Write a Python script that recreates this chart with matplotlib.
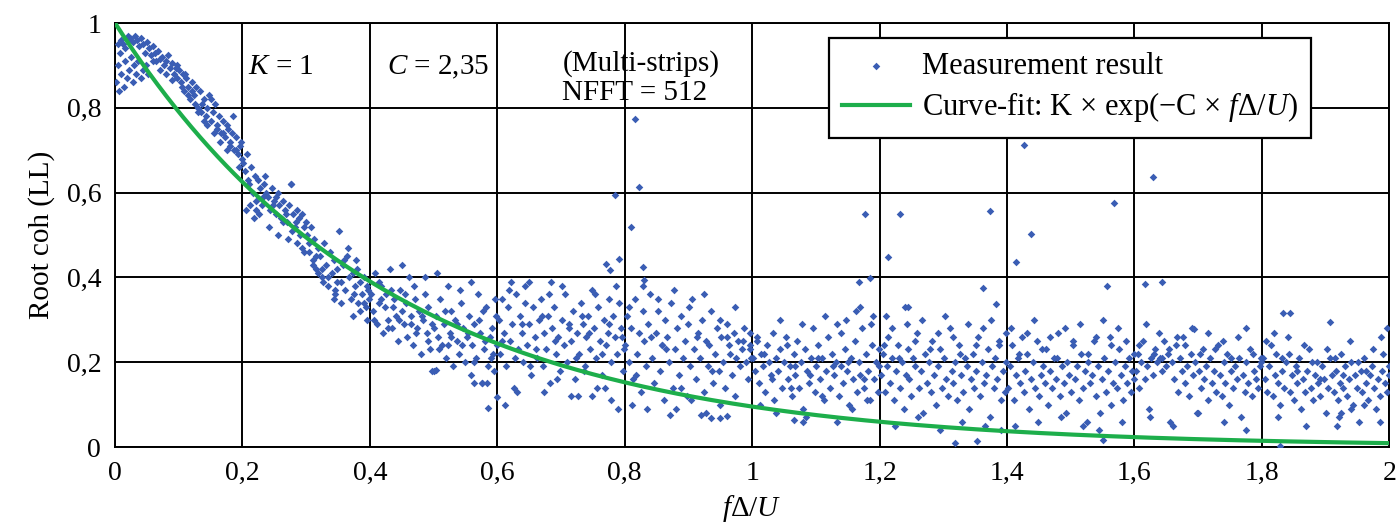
import matplotlib
matplotlib.use('Agg')
import matplotlib.pyplot as plt
import numpy as np

# ── fonts: Times-like serif ──
plt.rcParams['font.family'] = ['Liberation Serif', 'DejaVu Serif']
plt.rcParams['mathtext.fontset'] = 'custom'
plt.rcParams['mathtext.rm'] = 'Liberation Serif'
plt.rcParams['mathtext.it'] = 'Liberation Serif:italic'

BLUE = '#3A5DB4'
GREEN = '#1DAE4B'

# ── fit parameters ──
K_fit = 1.0
C_fit = 2.35

x_a = [0.002, 0.004, 0.006, 0.008, 0.010, 0.012, 0.014, 0.016, 0.018, 0.020, 0.022, 0.025, 0.028, 0.030, 0.033,
       0.036, 0.040, 0.044, 0.048, 0.052, 0.005, 0.010, 0.015, 0.020, 0.024, 0.028, 0.032, 0.035, 0.038, 0.041,
       0.044, 0.047, 0.050, 0.053, 0.056, 0.059, 0.062, 0.065, 0.068, 0.071, 0.074, 0.077, 0.080, 0.083, 0.086,
       0.089, 0.092, 0.095, 0.098, 0.060, 0.070, 0.080, 0.090, 0.097]
y_a = [0.86, 0.90, 0.84, 0.93, 0.88, 0.95, 0.85, 0.91, 0.87, 0.96, 0.89, 0.92, 0.86, 0.90, 0.88,
       0.91, 0.87, 0.89, 0.90, 0.88, 0.95, 0.96, 0.94, 0.97, 0.965, 0.955, 0.97, 0.96, 0.945, 0.965,
       0.95, 0.93, 0.955, 0.94, 0.925, 0.945, 0.93, 0.91, 0.935, 0.915, 0.92, 0.90, 0.91, 0.925, 0.895,
       0.905, 0.88, 0.895, 0.87, 0.91, 0.89, 0.88, 0.865, 0.90]

x_b = [0.100, 0.103, 0.106, 0.109, 0.112, 0.115, 0.118, 0.121, 0.124, 0.127, 0.130, 0.133, 0.136, 0.139, 0.142,
       0.145, 0.148, 0.151, 0.154, 0.157, 0.160, 0.163, 0.166, 0.169, 0.172, 0.175, 0.178, 0.181, 0.184, 0.187,
       0.190, 0.193, 0.196, 0.199, 0.105, 0.115, 0.125, 0.135, 0.145, 0.155, 0.165, 0.175, 0.185, 0.195,
       0.110, 0.130, 0.150, 0.170, 0.190, 0.120, 0.140, 0.160, 0.180, 0.198]
y_b = [0.89, 0.86, 0.88, 0.84, 0.87, 0.85, 0.82, 0.86, 0.83, 0.85, 0.80, 0.84, 0.81, 0.82, 0.78,
       0.80, 0.83, 0.77, 0.79, 0.81, 0.75, 0.78, 0.74, 0.77, 0.73, 0.76, 0.75, 0.72, 0.74, 0.70,
       0.73, 0.69, 0.71, 0.68, 0.85, 0.83, 0.81, 0.79, 0.76, 0.74, 0.72, 0.70, 0.78, 0.66,
       0.88, 0.79, 0.82, 0.74, 0.70, 0.84, 0.77, 0.76, 0.71, 0.72]

x_c = [0.201, 0.204, 0.207, 0.210, 0.213, 0.216, 0.219, 0.222, 0.225, 0.228, 0.231, 0.234, 0.237, 0.240, 0.243,
       0.246, 0.249, 0.252, 0.255, 0.258, 0.261, 0.264, 0.267, 0.270, 0.273, 0.276, 0.279, 0.282, 0.285, 0.288,
       0.291, 0.294, 0.297, 0.299, 0.205, 0.212, 0.218, 0.226, 0.233, 0.241, 0.248, 0.256, 0.263, 0.271,
       0.278, 0.286, 0.293, 0.209, 0.221, 0.236, 0.252, 0.268, 0.284, 0.297]
y_c = [0.67, 0.65, 0.69, 0.62, 0.66, 0.60, 0.64, 0.58, 0.63, 0.61, 0.57, 0.62, 0.60, 0.59, 0.56,
       0.61, 0.58, 0.55, 0.60, 0.57, 0.54, 0.58, 0.56, 0.53, 0.57, 0.62, 0.55, 0.52, 0.56, 0.54,
       0.50, 0.55, 0.52, 0.53, 0.56, 0.57, 0.54, 0.55, 0.59, 0.52, 0.57, 0.50, 0.53, 0.49,
       0.51, 0.48, 0.47, 0.63, 0.56, 0.64, 0.59, 0.55, 0.53, 0.46]

x_d = [0.301, 0.304, 0.307, 0.310, 0.313, 0.316, 0.319, 0.322, 0.325, 0.328, 0.331, 0.334, 0.337, 0.340, 0.343,
       0.346, 0.349, 0.352, 0.355, 0.358, 0.361, 0.364, 0.367, 0.370, 0.373, 0.376, 0.379, 0.382, 0.385, 0.388,
       0.391, 0.394, 0.397, 0.399, 0.305, 0.315, 0.325, 0.335, 0.345, 0.355, 0.365, 0.375, 0.385, 0.395,
       0.311, 0.327, 0.343, 0.359, 0.374, 0.390, 0.318, 0.348, 0.378, 0.396]
y_d = [0.50, 0.46, 0.52, 0.44, 0.49, 0.42, 0.47, 0.45, 0.40, 0.48, 0.43, 0.38, 0.46, 0.41, 0.44,
       0.36, 0.42, 0.51, 0.39, 0.43, 0.37, 0.45, 0.40, 0.35, 0.41, 0.38, 0.42, 0.34, 0.39, 0.36,
       0.40, 0.33, 0.37, 0.35, 0.48, 0.45, 0.42, 0.40, 0.37, 0.34, 0.47, 0.36, 0.32, 0.38,
       0.43, 0.39, 0.35, 0.44, 0.31, 0.34, 0.41, 0.39, 0.44, 0.30]

x_e = [0.402, 0.405, 0.408, 0.411, 0.414, 0.417, 0.420, 0.423, 0.426, 0.429, 0.432, 0.435, 0.438, 0.441, 0.444,
       0.447, 0.450, 0.453, 0.456, 0.459, 0.462, 0.465, 0.468, 0.471, 0.474, 0.477, 0.480, 0.483, 0.486, 0.489,
       0.492, 0.495, 0.498, 0.501, 0.504, 0.507, 0.510, 0.513, 0.516, 0.519, 0.522, 0.525, 0.528, 0.531, 0.534,
       0.537, 0.540, 0.543, 0.546, 0.549, 0.552, 0.555, 0.558, 0.561, 0.564, 0.567, 0.570, 0.573, 0.576, 0.579,
       0.582, 0.585, 0.588, 0.591, 0.594, 0.597, 0.599,
       0.407, 0.418, 0.428, 0.437, 0.446, 0.455, 0.464, 0.473, 0.482, 0.491, 0.500, 0.509, 0.518, 0.527, 0.536,
       0.545, 0.554, 0.563, 0.572, 0.581, 0.590, 0.598, 0.415, 0.433, 0.451, 0.469, 0.487, 0.505, 0.523, 0.541,
       0.559, 0.577, 0.595, 0.586, 0.600, 0.498, 0.504, 0.564, 0.576, 0.584]
y_e = [0.36, 0.32, 0.41, 0.29, 0.34, 0.38, 0.27, 0.33, 0.36, 0.30, 0.42, 0.28, 0.35, 0.31, 0.25,
       0.37, 0.32, 0.29, 0.34, 0.26, 0.40, 0.31, 0.24, 0.35, 0.28, 0.32, 0.22, 0.30, 0.36, 0.27,
       0.33, 0.23, 0.29, 0.18, 0.31, 0.26, 0.35, 0.24, 0.29, 0.21, 0.38, 0.27, 0.32, 0.19, 0.30,
       0.25, 0.22, 0.34, 0.28, 0.20, 0.26, 0.31, 0.17, 0.24, 0.29, 0.21, 0.36, 0.27, 0.15, 0.23,
       0.33, 0.19, 0.26, 0.28, 0.22, 0.35, 0.24,
       0.30, 0.35, 0.28, 0.33, 0.30, 0.36, 0.29, 0.27, 0.31, 0.25, 0.28, 0.23, 0.32, 0.26, 0.29,
       0.24, 0.27, 0.20, 0.30, 0.25, 0.21, 0.31, 0.39, 0.37, 0.43, 0.38, 0.40, 0.41, 0.24, 0.37,
       0.39, 0.32, 0.18, 0.092, 0.118, 0.179, 0.182, 0.151, 0.151, 0.151]

x_f = [0.602, 0.605, 0.608, 0.611, 0.614, 0.617, 0.620, 0.623, 0.626, 0.629, 0.632, 0.635, 0.638, 0.641, 0.644,
       0.647, 0.650, 0.653, 0.656, 0.659, 0.662, 0.665, 0.668, 0.671, 0.674, 0.677, 0.680, 0.683, 0.686, 0.689,
       0.692, 0.695, 0.698, 0.701, 0.704, 0.707, 0.710, 0.713, 0.716, 0.719, 0.722, 0.725, 0.728, 0.731, 0.734,
       0.737, 0.740, 0.743, 0.746, 0.749, 0.752, 0.755, 0.758, 0.761, 0.764, 0.767, 0.770, 0.773, 0.776, 0.779,
       0.782, 0.785, 0.788, 0.791, 0.794, 0.797, 0.799,
       0.607, 0.618, 0.628, 0.639, 0.649, 0.660, 0.670, 0.681, 0.691, 0.702, 0.712, 0.723, 0.733, 0.744, 0.754,
       0.765, 0.775, 0.786, 0.796, 0.612, 0.631, 0.652, 0.673, 0.694, 0.715, 0.736, 0.757, 0.778, 0.621, 0.643,
       0.685, 0.727, 0.748, 0.769, 0.790]
y_f = [0.30, 0.22, 0.35, 0.27, 0.19, 0.33, 0.25, 0.29, 0.14, 0.36, 0.23, 0.31, 0.27, 0.20, 0.34,
       0.24, 0.29, 0.17, 0.33, 0.26, 0.21, 0.30, 0.35, 0.19, 0.27, 0.23, 0.31, 0.15, 0.28, 0.33,
       0.22, 0.26, 0.18, 0.30, 0.24, 0.36, 0.20, 0.28, 0.25, 0.32, 0.16, 0.27, 0.22, 0.34, 0.29,
       0.19, 0.26, 0.31, 0.23, 0.37, 0.28, 0.21, 0.33, 0.25, 0.17, 0.30, 0.24, 0.27, 0.35, 0.20,
       0.31, 0.26, 0.22, 0.34, 0.28, 0.18, 0.23,
       0.25, 0.37, 0.21, 0.29, 0.39, 0.23, 0.31, 0.36, 0.25, 0.38, 0.29, 0.21, 0.31, 0.27, 0.36,
       0.22, 0.29, 0.38, 0.26, 0.10, 0.13, 0.19, 0.13, 0.16, 0.12, 0.18, 0.14, 0.11, 0.39, 0.38,
       0.39, 0.12, 0.12, 0.14, 0.09]

x_g = [0.801, 0.804, 0.807, 0.810, 0.813, 0.816, 0.819, 0.822, 0.825, 0.828, 0.831, 0.834, 0.837, 0.840, 0.843,
       0.846, 0.849, 0.852, 0.855, 0.858, 0.861, 0.864, 0.867, 0.870, 0.873, 0.876, 0.879, 0.882, 0.885, 0.888,
       0.891, 0.894, 0.897, 0.900, 0.903, 0.906, 0.909, 0.912, 0.915, 0.918, 0.921, 0.924, 0.927, 0.930, 0.933,
       0.936, 0.939, 0.942, 0.945, 0.948, 0.951, 0.954, 0.957, 0.960, 0.963, 0.966, 0.969, 0.972, 0.975, 0.978,
       0.981, 0.984, 0.987, 0.990, 0.993, 0.996, 0.999,
       0.806, 0.818, 0.829, 0.841, 0.853, 0.865, 0.877, 0.889, 0.901, 0.913, 0.925, 0.937, 0.949, 0.961, 0.973,
       0.985, 0.997, 0.812, 0.835, 0.858, 0.881, 0.904, 0.927, 0.950, 0.973, 0.996, 0.871, 0.920, 0.935, 0.950,
       0.961]
y_g = [0.24, 0.31, 0.20, 0.28, 0.16, 0.35, 0.22, 0.27, 0.13, 0.32, 0.25, 0.19, 0.29, 0.36, 0.21,
       0.15, 0.27, 0.32, 0.18, 0.24, 0.11, 0.30, 0.26, 0.20, 0.34, 0.14, 0.23, 0.28, 0.17, 0.31,
       0.21, 0.25, 0.12, 0.29, 0.19, 0.35, 0.23, 0.16, 0.27, 0.21, 0.30, 0.13, 0.25, 0.19, 0.24,
       0.32, 0.15, 0.22, 0.28, 0.18, 0.26, 0.20, 0.14, 0.29, 0.24, 0.22, 0.17, 0.27, 0.21, 0.25,
       0.19, 0.23, 0.28, 0.20, 0.16, 0.24, 0.21,
       0.33, 0.17, 0.38, 0.26, 0.35, 0.23, 0.37, 0.14, 0.33, 0.26, 0.36, 0.18, 0.30, 0.26, 0.33,
       0.25, 0.27, 0.10, 0.09, 0.24, 0.09, 0.11, 0.08, 0.10, 0.12, 0.23, 0.075, 0.075, 0.068, 0.068,
       0.073]

x_h = [1.002, 1.005, 1.008, 1.011, 1.014, 1.017, 1.020, 1.023, 1.026, 1.029, 1.032, 1.035, 1.038, 1.041, 1.044,
       1.047, 1.050, 1.053, 1.056, 1.059, 1.062, 1.065, 1.068, 1.071, 1.074, 1.077, 1.080, 1.083, 1.086, 1.089,
       1.092, 1.095, 1.098, 1.101, 1.104, 1.107, 1.110, 1.113, 1.116, 1.119, 1.122, 1.125, 1.128, 1.131, 1.134,
       1.137, 1.140, 1.143, 1.146, 1.149, 1.152, 1.155, 1.158, 1.161, 1.164, 1.167, 1.170, 1.173, 1.176, 1.179,
       1.182, 1.185, 1.188, 1.191, 1.194, 1.197, 1.199,
       1.007, 1.019, 1.031, 1.043, 1.055, 1.067, 1.079, 1.091, 1.103, 1.115, 1.127, 1.139, 1.151, 1.163, 1.175,
       1.187, 1.199, 1.013, 1.037, 1.061, 1.085, 1.109, 1.133, 1.157, 1.181, 1.066, 1.080, 1.148, 1.170, 1.190]
y_h = [0.21, 0.18, 0.25, 0.15, 0.22, 0.19, 0.13, 0.24, 0.20, 0.17, 0.27, 0.11, 0.21, 0.18, 0.23,
       0.14, 0.20, 0.26, 0.16, 0.19, 0.12, 0.22, 0.17, 0.25, 0.14, 0.20, 0.09, 0.23, 0.18, 0.15,
       0.21, 0.28, 0.13, 0.19, 0.24, 0.16, 0.21, 0.11, 0.18, 0.26, 0.14, 0.22, 0.17, 0.20, 0.29,
       0.12, 0.19, 0.15, 0.23, 0.18, 0.10, 0.21, 0.16, 0.25, 0.13, 0.20, 0.17, 0.28, 0.14, 0.22,
       0.18, 0.11, 0.24, 0.16, 0.20, 0.13, 0.23,
       0.26, 0.22, 0.16, 0.30, 0.24, 0.19, 0.29, 0.17, 0.21, 0.31, 0.19, 0.27, 0.20, 0.32, 0.16,
       0.29, 0.19, 0.10, 0.08, 0.14, 0.07, 0.12, 0.06, 0.09, 0.11, 0.064, 0.06, 0.30, 0.33, 0.31]

x_i = [1.202, 1.205, 1.208, 1.211, 1.214, 1.217, 1.220, 1.223, 1.226, 1.229, 1.232, 1.235, 1.238, 1.241, 1.244,
       1.247, 1.250, 1.253, 1.256, 1.259, 1.262, 1.265, 1.268, 1.271, 1.274, 1.277, 1.280, 1.283, 1.286, 1.289,
       1.292, 1.295, 1.298, 1.301, 1.304, 1.307, 1.310, 1.313, 1.316, 1.319, 1.322, 1.325, 1.328, 1.331, 1.334,
       1.337, 1.340, 1.343, 1.346, 1.349, 1.352, 1.355, 1.358, 1.361, 1.364, 1.367, 1.370, 1.373, 1.376, 1.379,
       1.382, 1.385, 1.388, 1.391, 1.394, 1.397, 1.399,
       1.207, 1.219, 1.231, 1.243, 1.255, 1.267, 1.279, 1.291, 1.303, 1.315, 1.327, 1.339, 1.351, 1.363, 1.375,
       1.387, 1.399, 1.225, 1.260, 1.295, 1.330, 1.365, 1.390, 1.210, 1.245]
y_i = [0.17, 0.22, 0.13, 0.19, 0.26, 0.15, 0.21, 0.11, 0.18, 0.24, 0.14, 0.20, 0.09, 0.17, 0.23,
       0.16, 0.12, 0.21, 0.19, 0.27, 0.14, 0.18, 0.08, 0.22, 0.15, 0.20, 0.13, 0.25, 0.17, 0.10,
       0.19, 0.23, 0.14, 0.21, 0.16, 0.12, 0.28, 0.18, 0.15, 0.20, 0.11, 0.24, 0.17, 0.13, 0.21,
       0.19, 0.09, 0.16, 0.22, 0.14, 0.18, 0.26, 0.12, 0.20, 0.15, 0.17, 0.23, 0.07, 0.19, 0.14,
       0.21, 0.16, 0.25, 0.11, 0.18, 0.13, 0.20,
       0.24, 0.28, 0.21, 0.29, 0.25, 0.30, 0.23, 0.27, 0.31, 0.26, 0.22, 0.29, 0.24, 0.28, 0.30,
       0.24, 0.27, 0.05, 0.07, 0.04, 0.06, 0.05, 0.04, 0.31, 0.33]

x_j = [1.402, 1.405, 1.408, 1.411, 1.414, 1.417, 1.420, 1.423, 1.426, 1.429, 1.432, 1.435, 1.438, 1.441, 1.444,
       1.447, 1.450, 1.453, 1.456, 1.459, 1.462, 1.465, 1.468, 1.471, 1.474, 1.477, 1.480, 1.483, 1.486, 1.489,
       1.492, 1.495, 1.498, 1.501, 1.504, 1.507, 1.510, 1.513, 1.516, 1.519, 1.522, 1.525, 1.528, 1.531, 1.534,
       1.537, 1.540, 1.543, 1.546, 1.549, 1.552, 1.555, 1.558, 1.561, 1.564, 1.567, 1.570, 1.573, 1.576, 1.579,
       1.582, 1.585, 1.588, 1.591, 1.594, 1.597, 1.599,
       1.407, 1.419, 1.431, 1.443, 1.455, 1.467, 1.479, 1.491, 1.503, 1.515, 1.527, 1.539, 1.551, 1.563, 1.575,
       1.587, 1.599, 1.413, 1.448, 1.485, 1.520, 1.545, 1.580]
y_j = [0.14, 0.19, 0.24, 0.11, 0.17, 0.21, 0.15, 0.26, 0.13, 0.18, 0.22, 0.09, 0.16, 0.20, 0.14,
       0.25, 0.12, 0.17, 0.19, 0.15, 0.23, 0.10, 0.18, 0.14, 0.21, 0.16, 0.27, 0.12, 0.19, 0.15,
       0.08, 0.20, 0.17, 0.13, 0.24, 0.16, 0.19, 0.11, 0.22, 0.14, 0.18, 0.06, 0.20, 0.15, 0.17,
       0.25, 0.12, 0.19, 0.08, 0.16, 0.21, 0.13, 0.18, 0.26, 0.10, 0.15, 0.20, 0.14, 0.23, 0.17,
       0.11, 0.19, 0.15, 0.21, 0.13, 0.18, 0.16,
       0.28, 0.22, 0.27, 0.30, 0.23, 0.26, 0.21, 0.28, 0.25, 0.29, 0.22, 0.26, 0.30, 0.24, 0.28,
       0.25, 0.22, 0.05, 0.06, 0.07, 0.05, 0.04, 0.06]

x_k = [1.602, 1.605, 1.608, 1.611, 1.614, 1.617, 1.620, 1.623, 1.626, 1.629, 1.632, 1.635, 1.638, 1.641, 1.644,
       1.647, 1.650, 1.653, 1.656, 1.659, 1.662, 1.665, 1.668, 1.671, 1.674, 1.677, 1.680, 1.683, 1.686, 1.689,
       1.692, 1.695, 1.698, 1.701, 1.704, 1.707, 1.710, 1.713, 1.716, 1.719, 1.722, 1.725, 1.728, 1.731, 1.734,
       1.737, 1.740, 1.743, 1.746, 1.749, 1.752, 1.755, 1.758, 1.761, 1.764, 1.767, 1.770, 1.773, 1.776, 1.779,
       1.782, 1.785, 1.788, 1.791, 1.794, 1.797, 1.799,
       1.607, 1.619, 1.631, 1.643, 1.655, 1.667, 1.679, 1.691, 1.703, 1.715, 1.727, 1.739, 1.751, 1.763, 1.775,
       1.787, 1.799, 1.625, 1.660, 1.700, 1.740, 1.775]
y_k = [0.18, 0.22, 0.14, 0.20, 0.25, 0.16, 0.19, 0.09, 0.21, 0.17, 0.23, 0.20, 0.27, 0.21, 0.18,
       0.25, 0.19, 0.22, 0.06, 0.20, 0.16, 0.24, 0.13, 0.21, 0.18, 0.26, 0.15, 0.19, 0.12, 0.22,
       0.17, 0.20, 0.08, 0.18, 0.14, 0.23, 0.16, 0.19, 0.11, 0.21, 0.15, 0.18, 0.13, 0.24, 0.17,
       0.12, 0.20, 0.15, 0.22, 0.10, 0.18, 0.14, 0.19, 0.16, 0.21, 0.07, 0.17, 0.13, 0.20, 0.15,
       0.23, 0.12, 0.18, 0.16, 0.14, 0.19, 0.21,
       0.24, 0.29, 0.22, 0.21, 0.23, 0.26, 0.24, 0.28, 0.22, 0.27, 0.23, 0.25, 0.21, 0.26, 0.28,
       0.22, 0.20, 0.07, 0.05, 0.08, 0.06, 0.04]

x_l = [1.802, 1.805, 1.808, 1.811, 1.814, 1.817, 1.820, 1.823, 1.826, 1.829, 1.832, 1.835, 1.838, 1.841, 1.844,
       1.847, 1.850, 1.853, 1.856, 1.859, 1.862, 1.865, 1.868, 1.871, 1.874, 1.877, 1.880, 1.883, 1.886, 1.889,
       1.892, 1.895, 1.898, 1.901, 1.904, 1.907, 1.910, 1.913, 1.916, 1.919, 1.922, 1.925, 1.928, 1.931, 1.934,
       1.937, 1.940, 1.943, 1.946, 1.949, 1.952, 1.955, 1.958, 1.961, 1.964, 1.967, 1.970, 1.973, 1.976, 1.979,
       1.982, 1.985, 1.988, 1.991, 1.994, 1.997, 1.999,
       1.807, 1.819, 1.831, 1.843, 1.855, 1.867, 1.879, 1.891, 1.903, 1.915, 1.927, 1.939, 1.951, 1.963, 1.975,
       1.987, 1.999, 1.825, 1.870, 1.918, 1.921, 1.925, 1.940, 1.960, 1.985]
y_l = [0.21, 0.16, 0.13, 0.19, 0.24, 0.12, 0.17, 0.22, 0.15, 0.10, 0.18, 0.14, 0.20, 0.26, 0.13,
       0.17, 0.11, 0.19, 0.15, 0.21, 0.09, 0.16, 0.13, 0.18, 0.23, 0.14, 0.11, 0.17, 0.20, 0.15,
       0.12, 0.19, 0.16, 0.08, 0.14, 0.21, 0.17, 0.13, 0.18, 0.11, 0.15, 0.22, 0.14, 0.19, 0.12,
       0.16, 0.20, 0.10, 0.17, 0.14, 0.06, 0.18, 0.13, 0.21, 0.15, 0.11, 0.17, 0.19, 0.14, 0.09,
       0.16, 0.12, 0.18, 0.22, 0.15, 0.13, 0.17,
       0.25, 0.27, 0.21, 0.22, 0.18, 0.24, 0.20, 0.16, 0.23, 0.21, 0.17, 0.25, 0.20, 0.18, 0.23,
       0.26, 0.19, 0.07, 0.05, 0.05, 0.07, 0.08, 0.09, 0.10, 0.06]

# isolated points far from the main cloud
x_out = [0.816, 0.823, 0.785, 0.810, 0.791, 0.771, 0.777, 0.829, 0.830, 1.177, 1.232, 1.213, 1.168, 1.185,
         1.240, 1.427, 1.374, 1.438, 1.414, 1.568, 1.630, 1.363, 1.383, 1.557, 1.617, 1.644, 1.834, 1.845,
         1.907, 1.997, 1.694, 1.829, 1.319, 1.353, 1.550, 0.276]
y_out = [0.774, 0.614, 0.594, 0.520, 0.443, 0.432, 0.418, 0.425, 0.394, 0.550, 0.550, 0.448, 0.390, 0.398,
         0.330, 0.712, 0.557, 0.502, 0.436, 0.575, 0.637, 0.375, 0.337, 0.380, 0.384, 0.390, 0.316, 0.316,
         0.295, 0.280, 0.278, 0.002, 0.010, 0.014, 0.016, 0.620]

x_meas = x_a + x_b + x_c + x_d + x_e + x_f + x_g + x_h + x_i + x_j + x_k + x_l + x_out
y_meas = y_a + y_b + y_c + y_d + y_e + y_f + y_g + y_h + y_i + y_j + y_k + y_l + y_out

ticks = [0, 0.2, 0.4, 0.6, 0.8, 1.0]
xticks = [0, 0.2, 0.4, 0.6, 0.8, 1.0, 1.2, 1.4, 1.6, 1.8, 2.0]
ytick_labels = ['0', '0,2', '0,4', '0,6', '0,8', '1']
xtick_labels = ['0', '0,2', '0,4', '0,6', '0,8', '1', '1,2', '1,4', '1,6', '1,8', '2']

fig = plt.figure(figsize=(13.98, 5.30), dpi=100)
ax = fig.add_axes([0.0823, 0.1566, 0.9114, 0.800])

ax.scatter(x_meas, y_meas, s=15, marker='D', color=BLUE, linewidths=0, zorder=3,
           label='Measurement result')
xf = np.linspace(0, 2, 300)
ax.plot(xf, K_fit * np.exp(-C_fit * xf), color=GREEN, lw=3, zorder=4,
        label=r'Curve-fit: K $\times$ exp($-$C $\times$ $f\Delta/U$)')

ax.set_xlim(0, 2)
ax.set_ylim(0, 1)
ax.set_xticks(xticks)
ax.set_xticklabels(xtick_labels)
ax.set_yticks(ticks)
ax.set_yticklabels(ytick_labels)
ax.tick_params(length=0, labelsize=20, pad=10)
ax.grid(True, color='black', lw=1.4)
ax.set_axisbelow(True)
for sp in ax.spines.values():
    sp.set_linewidth(1.4)

ax.set_ylabel('Root coh (LL)', fontsize=21, labelpad=8)
ax.set_xlabel(r'$f\Delta/U$', fontsize=21, labelpad=5)

ax.text(0.209, 0.896, r'$K$ = 1', fontsize=21, va='center', ha='left')
ax.text(0.427, 0.896, r'$C$ = 2,35', fontsize=21, va='center', ha='left')
ax.text(0.702, 0.905, '(Multi-strips)', fontsize=21, va='center', ha='left')
ax.text(0.702, 0.835, 'NFFT = 512', fontsize=21, va='center', ha='left')

leg = ax.legend(loc='upper right', bbox_to_anchor=(0.939, 0.965), fontsize=22,
                scatterpoints=1, markerscale=1.0, handlelength=2.2, handletextpad=0.4,
                frameon=True, fancybox=False, edgecolor='black', framealpha=1,
                borderpad=0.45, labelspacing=0.32, borderaxespad=0)
leg.get_frame().set_linewidth(1.6)

fig.savefig('out.png', dpi=100, facecolor='white')
